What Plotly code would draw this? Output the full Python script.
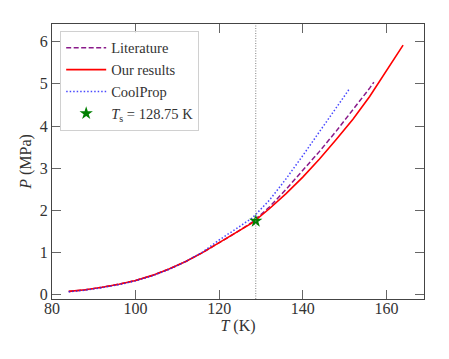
import plotly.graph_objs as go

# data
t_ours = [84, 88, 92, 96, 100, 104, 108, 112, 116, 120, 124, 128, 132, 136, 140, 144, 148, 152, 156, 160, 164]
p_ours = [0.08, 0.12, 0.18, 0.25, 0.34, 0.46, 0.61, 0.79, 1.00, 1.23, 1.46, 1.71, 2.04, 2.40, 2.79, 3.22, 3.68, 4.16, 4.70, 5.30, 5.92]

t_lit = [84, 88, 92, 96, 100, 104, 108, 112, 116, 120, 124, 128, 132, 136, 140, 144, 148, 152, 156, 157]
p_lit = [0.08, 0.12, 0.18, 0.25, 0.34, 0.46, 0.61, 0.79, 1.00, 1.23, 1.47, 1.73, 2.08, 2.50, 2.94, 3.40, 3.88, 4.38, 4.90, 5.04]

t_cool = [84, 88, 92, 96, 100, 104, 108, 112, 116, 120, 124, 128, 132, 136, 140, 144, 148, 151]
p_cool = [0.07, 0.11, 0.17, 0.24, 0.33, 0.45, 0.60, 0.79, 1.01, 1.30, 1.56, 1.83, 2.24, 2.75, 3.30, 3.86, 4.43, 4.86]

t_s = 128.75
p_s = 1.75

x_ticks = [80, 100, 120, 140, 160]
y_ticks = [0, 1, 2, 3, 4, 5, 6]

font_family = "Liberation Serif"
text_color = '#333333'
axis_color = '#444444'

fig = go.Figure()

fig.add_trace(go.Scatter(x=t_lit, y=p_lit, mode='lines', name='Literature',
                         line=dict(color='#8a1a8a', width=1.5, dash='5px,2.5px')))
fig.add_trace(go.Scatter(x=t_ours, y=p_ours, mode='lines', name='Our results',
                         line=dict(color='red', width=1.6)))
fig.add_trace(go.Scatter(x=t_cool, y=p_cool, mode='lines', name='CoolProp',
                         line=dict(color='rgba(40,40,255,0.85)', width=1.5, dash='1.5px,2px')))
fig.add_trace(go.Scatter(x=[t_s], y=[p_s], mode='markers',
                         name='<i>T</i><sub>s</sub> = 128.75 K',
                         marker=dict(symbol='star', color='green', size=10)))

fig.add_vline(x=t_s, line=dict(color='grey', width=1, dash='1px,1.5px'))

# page body adds ~8px, so the figure is a bit smaller than the window
fig.update_layout(width=441, height=351,
                  autosize=False,
                  paper_bgcolor='white',
                  plot_bgcolor='white',
                  margin=dict(l=44, r=25, t=16, b=60),
                  font=dict(family=font_family, size=15, color=text_color),
                  )

# x axis settings
fig.update_xaxes(range=[80, 169], tickvals=x_ticks,
                 showgrid=False, zeroline=False,
                 showline=True, linecolor=axis_color, linewidth=1, mirror='ticks',
                 ticks='inside', ticklen=9, tickcolor='#666666', tickwidth=1,
                 tickfont=dict(size=16), ticklabelstandoff=-5,
                 title=dict(text='<i>T</i> (K)', font=dict(size=16), standoff=2))

# y axis settings
fig.update_yaxes(range=[-0.1, 6.42], tickvals=y_ticks,
                 showgrid=False, zeroline=False,
                 showline=True, linecolor=axis_color, linewidth=1, mirror='ticks',
                 ticks='inside', ticklen=9, tickcolor='#666666', tickwidth=1,
                 tickfont=dict(size=16),
                 title=dict(text='<i>P</i> (MPa)', font=dict(size=16), standoff=4))

# legend settings
fig.update_layout(legend=dict(
    x=0.022, y=0.975, xanchor='left', yanchor='top',
    bgcolor='rgba(255,255,255,0.8)',
    bordercolor='#d0d0d0', borderwidth=1,
    font=dict(size=14.5),
    tracegroupgap=0,
    itemwidth=40))

fig.write_html("out.html")
